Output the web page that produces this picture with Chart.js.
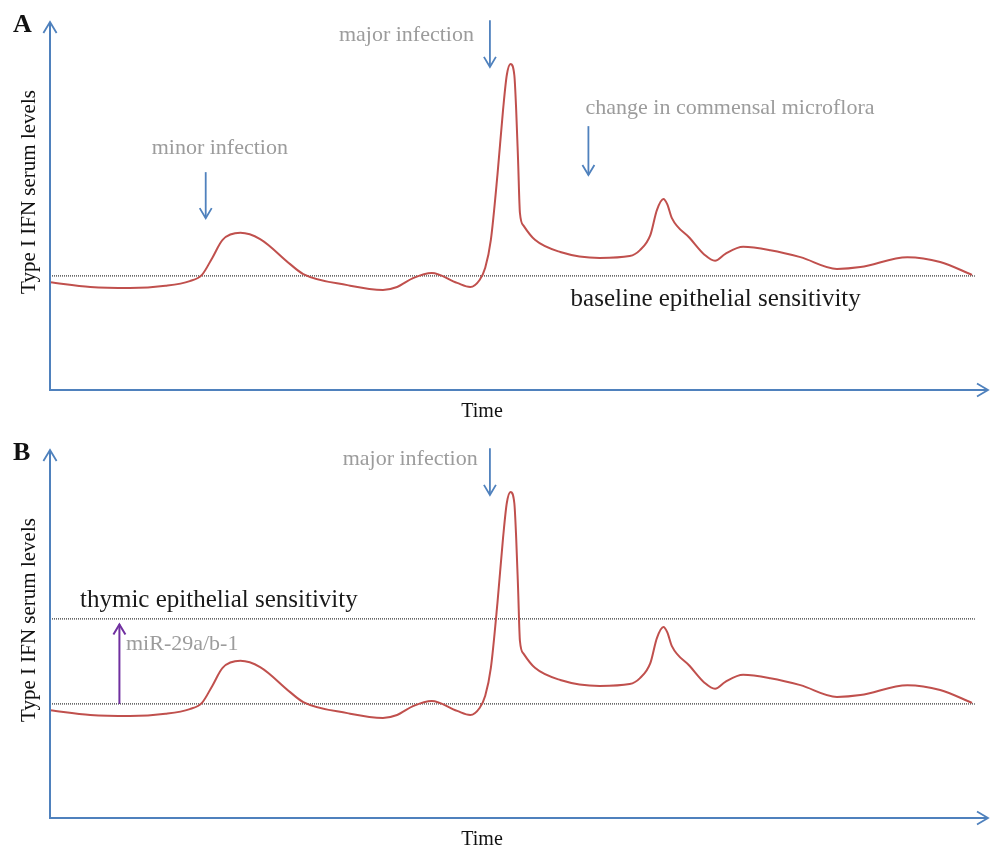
<!DOCTYPE html>
<html>
<head>
<meta charset="utf-8">
<script src="https://cdn.jsdelivr.net/npm/chart.js@4.4.0/dist/chart.umd.min.js"></script>
<style>
    html, body { margin: 0; padding: 0; background: #fff; overflow: hidden; }
    .panel { position: absolute; left: 0; width: 990px; height: 428px; }
    #panelA { top: 0; }
    #panelB { top: 428px; }
</style>
</head>
<body>
<div class="panel" id="panelA"><canvas id="chartA"></canvas></div>
<div class="panel" id="panelB"><canvas id="chartB"></canvas></div>

<script>
// Time axis (arbitrary units 0-100) and Type I IFN level (arbitrary units 0-100)
const timePoints = [0, 4.3, 8.5, 12.3, 14.9, 16.2, 17.3, 18.4, 20.3, 22.4, 25.6, 27.0, 31.7, 35.5, 37.0, 38.7, 40.7, 43.4,
    44.8, 45.8, 46.4, 47.0, 47.7, 48.3, 48.7, 49.1, 49.5, 49.7, 49.9, 50.1, 50.5, 51.7,
    54.4, 58.6, 61.8, 62.9, 64.0, 64.7, 65.4, 65.8, 66.3, 68.2, 69.8, 70.9, 72.0, 73.9, 76.8, 80.0, 83.9, 86.4, 91.4, 94.9, 98.3];
const ifnLevels = [29.3, 28.0, 27.7, 28.3, 29.6, 31.3, 35.9, 40.8, 42.7, 41.0, 34.2, 31.5, 28.5, 27.2, 28.0, 30.4, 31.8, 29.1,
    28.0, 29.9, 33.2, 40.8, 58.4, 76.1, 85.6, 88.6, 85.6, 76.1, 62.5, 48.1, 44.6, 40.8,
    37.5, 35.9, 36.4, 38.0, 42.1, 48.9, 51.9, 50.5, 46.7, 41.3, 36.7, 35.1, 37.0, 38.9, 38.0, 36.1, 32.9, 33.4, 36.1, 34.8, 31.3];

// sensitivity thresholds
const lineStart = 0;
const lineEnd = 98.6;
const baselineLevel = 31;
const thymicLevel = 54.1;

// annotations: [label, text centre time, text level, arrow time, arrow from level, arrow to level]
const annotationsA = [
    ['minor infection', 18.1, 65.8, 16.6, 59.2, 46.7],
    ['major infection', 38.0, 96.5, 46.9, 100.5, 87.8],
    ['change in commensal microflora', 72.5, 76.6, 57.4, 71.7, 58.4]
];
const annotationsB = [
    ['major infection', 38.4, 97.6, 46.9, 100.5, 87.8]
];

const serif = "'Liberation Serif', 'Times New Roman', serif";
const blue = '#4f81bd';
const red = '#c0504d';
const grey = '#9c9c9c';
const purple = '#7030a0';

function curvePoints() {
    return timePoints.map((t, i) => ({ x: t, y: ifnLevels[i] }));
}

function flatLine(level) {
    return [{ x: lineStart, y: level }, { x: lineEnd, y: level }];
}

function arrowHead(ctx, x, y, dir, size) {
    // dir: 'up', 'down', 'right'
    ctx.beginPath();
    if (dir === 'up') {
        ctx.moveTo(x - size * 0.6, y + size); ctx.lineTo(x, y); ctx.lineTo(x + size * 0.6, y + size);
    } else if (dir === 'down') {
        ctx.moveTo(x - size * 0.6, y - size); ctx.lineTo(x, y); ctx.lineTo(x + size * 0.6, y - size);
    } else {
        ctx.moveTo(x - size, y - size * 0.6); ctx.lineTo(x, y); ctx.lineTo(x - size, y + size * 0.6);
    }
    ctx.stroke();
}

function vArrow(ctx, x, y1, y2, color, width) {
    ctx.save();
    ctx.strokeStyle = color;
    ctx.lineWidth = width;
    ctx.beginPath();
    ctx.moveTo(x, y1);
    ctx.lineTo(x, y2);
    ctx.stroke();
    arrowHead(ctx, x, y2, y2 > y1 ? 'down' : 'up', 10);
    ctx.restore();
}

// Draws axes with arrows, titles, panel letter and text annotations
const panelDecor = {
    id: 'panelDecor',
    afterDatasetsDraw(chart, args, opts) {
        const ctx = chart.ctx;
        const area = chart.chartArea;
        const xs = chart.scales.x;
        const ys = chart.scales.y;

        // axes
        ctx.save();
        ctx.strokeStyle = blue;
        ctx.lineWidth = 2;
        ctx.beginPath();
        ctx.moveTo(area.left, area.top);
        ctx.lineTo(area.left, area.bottom);
        ctx.lineTo(area.right, area.bottom);
        ctx.stroke();
        ctx.lineWidth = 1.8;
        arrowHead(ctx, area.left, area.top, 'up', 11);
        arrowHead(ctx, area.right, area.bottom, 'right', 11);
        ctx.restore();

        ctx.save();
        ctx.fillStyle = '#111';
        // panel letter
        ctx.font = 'bold 26px ' + serif;
        ctx.textAlign = 'left';
        ctx.textBaseline = 'middle';
        ctx.fillText(opts.letter, 13, 25);
        // x title
        ctx.font = '20px ' + serif;
        ctx.textAlign = 'center';
        ctx.fillText('Time', 482, area.bottom + 22);
        // y title
        ctx.font = '21px ' + serif;
        ctx.translate(29, 192);
        ctx.rotate(-Math.PI / 2);
        ctx.fillText('Type I IFN serum levels', 0, 0);
        ctx.restore();

        // grey annotations with blue arrows
        ctx.save();
        ctx.font = '22px ' + serif;
        ctx.textAlign = 'center';
        ctx.textBaseline = 'middle';
        ctx.fillStyle = grey;
        opts.notes.forEach(n => {
            ctx.fillText(n[0], xs.getPixelForValue(n[1]), ys.getPixelForValue(n[2]));
            vArrow(ctx, xs.getPixelForValue(n[3]), ys.getPixelForValue(n[4]), ys.getPixelForValue(n[5]), blue, 1.8);
        });
        ctx.restore();

        // sensitivity labels
        ctx.save();
        ctx.font = '25px ' + serif;
        ctx.textAlign = 'left';
        ctx.textBaseline = 'middle';
        ctx.fillStyle = '#1a1a1a';
        opts.labels.forEach(l => {
            ctx.fillText(l[0], xs.getPixelForValue(l[1]), ys.getPixelForValue(l[2]));
        });
        ctx.restore();

        if (opts.shift) {
            const x = xs.getPixelForValue(7.4);
            vArrow(ctx, x, ys.getPixelForValue(baselineLevel), ys.getPixelForValue(52.6), purple, 2);
            ctx.save();
            ctx.font = '22px ' + serif;
            ctx.fillStyle = grey;
            ctx.textBaseline = 'middle';
            ctx.fillText('miR-29a/b-1', xs.getPixelForValue(8.1), ys.getPixelForValue(47.3));
            ctx.restore();
        }
    }
};

function makeConfig(thresholds, opts) {
    const datasets = [{
        data: curvePoints(),
        borderColor: red,
        borderWidth: 2,
        pointRadius: 0,
        fill: false,
        cubicInterpolationMode: 'monotone'
    }];
    thresholds.forEach(level => {
        datasets.push({
            data: flatLine(level),
            borderColor: '#000',
            borderWidth: 1,
            borderDash: [1, 1],
            pointRadius: 0,
            fill: false
        });
    });
    return {
        type: 'line',
        data: { datasets: datasets },
        options: {
            responsive: true,
            maintainAspectRatio: false,
            animation: false,
            layout: { padding: { left: 50, right: 2, top: 22, bottom: 38 } },
            scales: {
                x: { type: 'linear', min: 0, max: 100, display: false },
                y: { min: 0, max: 100, display: false }
            },
            plugins: {
                legend: { display: false },
                tooltip: { enabled: false },
                panelDecor: opts
            }
        },
        plugins: [panelDecor]
    };
}

new Chart(document.getElementById('chartA'), makeConfig([baselineLevel], {
    letter: 'A',
    notes: annotationsA,
    labels: [['baseline epithelial sensitivity', 55.5, 24.6]],
    shift: false
}));

new Chart(document.getElementById('chartB'), makeConfig([baselineLevel, thymicLevel], {
    letter: 'B',
    notes: annotationsB,
    labels: [['thymic epithelial sensitivity', 3.2, 59.0]],
    shift: true
}));
</script>
</body>
</html>
